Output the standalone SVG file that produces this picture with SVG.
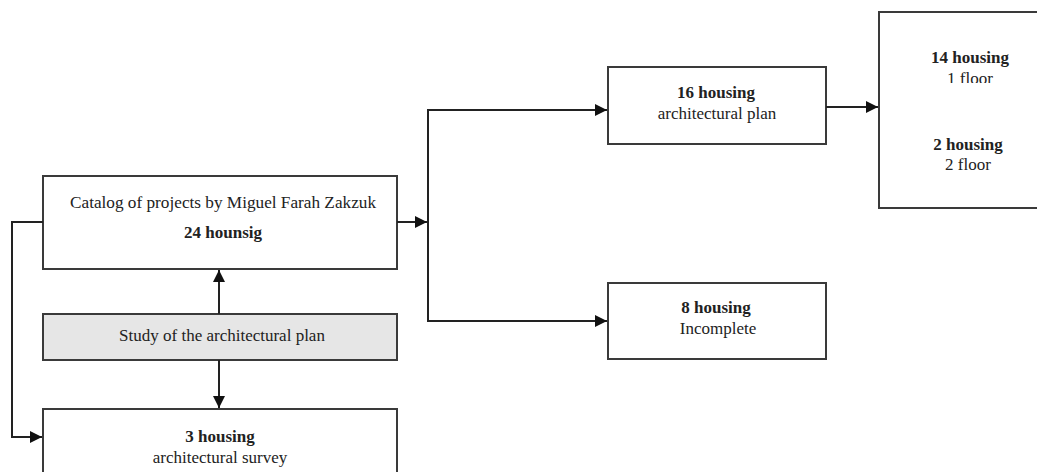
<svg xmlns="http://www.w3.org/2000/svg" width="1037" height="472" viewBox="0 0 1037 472">
<style>
.box{fill:#fff;stroke:#3a3a3a;stroke-width:2}
.gray{fill:#e6e6e6}
text{font-family:"Liberation Serif","Times New Roman",serif;font-size:17px;fill:#222;text-anchor:middle}
.b{font-weight:bold}
.conn{fill:none;stroke:#222;stroke-width:2}
</style>
<defs>
<marker id="ah" viewBox="0 0 10 10" refX="10" refY="5" markerWidth="6" markerHeight="6" orient="auto" markerUnits="strokeWidth">
<path d="M0,0 L10,5 L0,10 z" fill="#111"/>
</marker>
<clipPath id="c1"><rect x="880" y="60" width="157" height="23"/></clipPath>
</defs>
<rect width="1037" height="472" fill="#fff"/>
<g id="catalog">
<rect class="box" x="43" y="176" width="354" height="93"/>
<text x="223" y="208" textLength="306" lengthAdjust="spacingAndGlyphs">Catalog of projects by Miguel Farah Zakzuk</text>
<text class="b" x="223" y="238">24 hounsig</text>
</g>
<g id="study">
<rect class="box gray" x="43" y="314" width="354" height="46"/>
<text x="222" y="341">Study of the architectural plan</text>
</g>
<g id="survey">
<rect class="box" x="43" y="409" width="354" height="70"/>
<text class="b" x="220" y="442">3 housing</text>
<text x="220" y="463">architectural survey</text>
</g>
<g id="plan16">
<rect class="box" x="608" y="67" width="218" height="77"/>
<text class="b" x="716" y="98">16 housing</text>
<text x="717" y="119">architectural plan</text>
</g>
<g id="incomplete8">
<rect class="box" x="608" y="283" width="218" height="76"/>
<text class="b" x="716" y="313">8 housing</text>
<text x="718" y="334">Incomplete</text>
</g>
<g id="floors">
<rect class="box" x="879" y="12" width="170" height="196"/>
<text class="b" x="970" y="63">14 housing</text>
<text x="970" y="84" clip-path="url(#c1)">1 floor</text>
<text class="b" x="968" y="150">2 housing</text>
<text x="968" y="170">2 floor</text>
</g>
<g id="connectors">
<path class="conn" d="M43,222 H12 V437 H42" marker-end="url(#ah)"/>
<path class="conn" d="M219,314 V270" marker-end="url(#ah)"/>
<path class="conn" d="M219,360 V408" marker-end="url(#ah)"/>
<path class="conn" d="M397,222 H427" marker-end="url(#ah)"/>
<path class="conn" d="M607,110 H428 V321 H607" marker-end="url(#ah)"/>
<path class="conn" d="M590,110 H607" marker-end="url(#ah)"/>
<path class="conn" d="M826,107 H878" marker-end="url(#ah)"/>
</g>
</svg>
